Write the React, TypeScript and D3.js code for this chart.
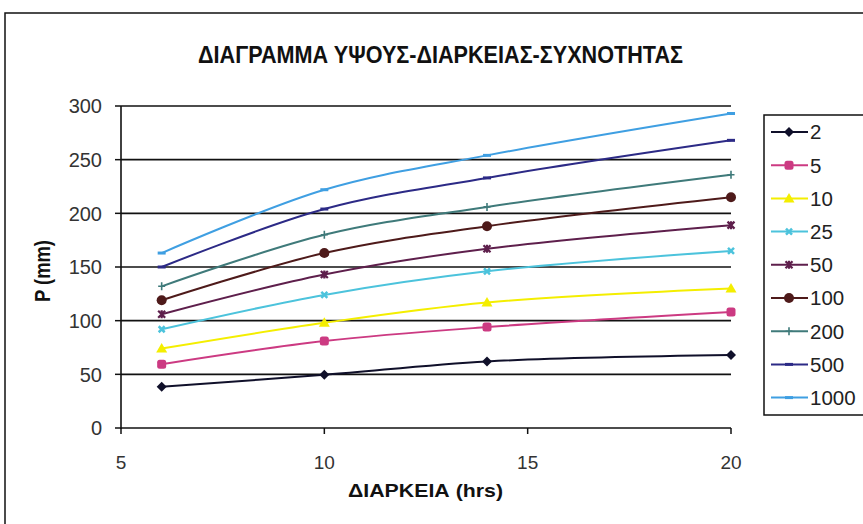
import React from "react";
import * as d3 from "d3";

const durations = [6, 10, 14, 20];
const seriesNames = ["2", "5", "10", "25", "50", "100", "200", "500", "1000"];
const s2 = [38.5, 49.5, 62, 68];
const s5 = [59.5, 81, 94, 108];
const s10 = [74, 98, 117, 130];
const s25 = [92, 124, 146, 165];
const s50 = [106, 143, 167, 189];
const s100 = [119, 163, 188, 215];
const s200 = [132, 180, 206, 236];
const s500 = [150, 204, 233, 268];
const s1000 = [163, 222, 254, 293];
const seriesValues = [s2, s5, s10, s25, s50, s100, s200, s500, s1000];
const colors = ["#10102a", "#cc3a82", "#f4ee00", "#4cc3dc", "#5e1f4c", "#4e1a1a", "#3f7a7a", "#2c2a86", "#3f9fe2"];
const markers = ["diamond", "square", "triangle", "x", "star", "circle", "plus", "dash", "dash"];
const yTicks = [0, 50, 100, 150, 200, 250, 300];
const xTicks = [5, 10, 15, 20];

const FONT = "'Liberation Sans', Arial, sans-serif";

function Marker({ type, x, y, color }: { type: string; x: number; y: number; color: string }) {
  switch (type) {
    case "diamond":
      return <path d={`M${x},${y - 5}L${x + 5},${y}L${x},${y + 5}L${x - 5},${y}Z`} fill={color} />;
    case "square":
      return <rect x={x - 4.5} y={y - 4.5} width={9} height={9} rx={2.5} fill={color} />;
    case "triangle":
      return <path d={`M${x},${y - 5.5}L${x + 5.5},${y + 4}L${x - 5.5},${y + 4}Z`} fill={color} />;
    case "x":
      return (
        <path d={`M${x - 3},${y - 3}L${x + 3},${y + 3}M${x - 3},${y + 3}L${x + 3},${y - 3}`} stroke={color} strokeWidth={2.5} />
      );
    case "star":
      return (
        <path
          d={`M${x - 3.5},${y - 3.5}L${x + 3.5},${y + 3.5}M${x - 3.5},${y + 3.5}L${x + 3.5},${y - 3.5}M${x},${y - 4}L${x},${y + 4}`}
          stroke={color}
          strokeWidth={2.2}
        />
      );
    case "circle":
      return <circle cx={x} cy={y} r={5} fill={color} />;
    case "plus":
      return <path d={`M${x - 3.5},${y}L${x + 3.5},${y}M${x},${y - 4}L${x},${y + 4}`} stroke={color} strokeWidth={1.6} />;
    case "dash":
      return <path d={`M${x - 4},${y}L${x + 4},${y}`} stroke={color} strokeWidth={3} />;
    default:
      return null;
  }
}

export default function App() {
  const x = d3.scaleLinear().domain([5, 20]).range([121, 731]);
  const y = d3.scaleLinear().domain([0, 300]).range([428, 106]);
  const line = d3
    .line<number>()
    .x((_, i) => x(durations[i]))
    .y((d) => y(d))
    .curve(d3.curveCatmullRom.alpha(0.5));

  const legendY = (i: number) => 132 + i * 33.2;

  return (
    <svg
      width={863}
      height={524}
      style={{ position: "absolute", left: 0, top: 0, background: "#fff" }}
      fontFamily={FONT}
    >
      <rect x={0} y={0} width={863} height={524} fill="#fff" />
      <rect x={5} y={13} width={900} height={600} fill="none" stroke="#111" strokeWidth={1.5} />

      <text x={198} y={63} fontSize={23} fontWeight="bold" fill="#111" textLength={485} lengthAdjust="spacingAndGlyphs">
        ΔΙΑΓΡΑΜΜΑ ΥΨΟΥΣ-ΔΙΑΡΚΕΙΑΣ-ΣΥΧΝΟΤΗΤΑΣ
      </text>

      {/* gridlines */}
      {yTicks.map((t) => (
        <line key={"g" + t} x1={121} x2={731} y1={y(t)} y2={y(t)} stroke="#111" strokeWidth={1.6} />
      ))}
      {/* y axis */}
      <line x1={121} x2={121} y1={y(300)} y2={y(0) + 1} stroke="#111" strokeWidth={1.6} />
      {yTicks.map((t) => (
        <g key={"yt" + t}>
          <line x1={115} x2={121} y1={y(t)} y2={y(t)} stroke="#111" strokeWidth={1.5} />
          <text x={102} y={y(t)} dy="0.36em" textAnchor="end" fontSize={20} fill="#333">
            {t}
          </text>
        </g>
      ))}
      {/* x ticks */}
      {xTicks.map((t) => (
        <g key={"xt" + t}>
          <line x1={x(t)} x2={x(t)} y1={428} y2={434} stroke="#111" strokeWidth={1.5} />
          <text x={x(t)} y={468.5} textAnchor="middle" fontSize={19} fill="#333">
            {t}
          </text>
        </g>
      ))}

      <text x={425.5} y={497} textAnchor="middle" fontSize={18.5} fontWeight="bold" fill="#111" textLength={155} lengthAdjust="spacingAndGlyphs">
        ΔΙΑΡΚΕΙΑ (hrs)
      </text>
      <text
        transform="translate(50,271) rotate(-90)"
        textAnchor="middle"
        fontSize={22}
        fontWeight="bold"
        fill="#111"
        textLength={62}
        lengthAdjust="spacingAndGlyphs"
      >
        P (mm)
      </text>

      {/* series */}
      {seriesValues.map((vals, si) => (
        <g key={"s" + si}>
          <path d={line(vals) || ""} fill="none" stroke={colors[si]} strokeWidth={2} />
          {vals.map((v, i) => (
            <Marker key={i} type={markers[si]} x={x(durations[i])} y={y(v)} color={colors[si]} />
          ))}
        </g>
      ))}

      {/* legend */}
      <rect x={764} y={115} width={140} height={300} fill="#fff" stroke="#111" strokeWidth={1.5} />
      {seriesNames.map((name, i) => (
        <g key={"l" + i}>
          <line x1={771} x2={808} y1={legendY(i)} y2={legendY(i)} stroke={colors[i]} strokeWidth={2} />
          <Marker type={markers[i]} x={789} y={legendY(i)} color={colors[i]} />
          <text x={810} y={legendY(i)} dy="0.36em" fontSize={20.5} fill="#222">
            {name}
          </text>
        </g>
      ))}
    </svg>
  );
}
